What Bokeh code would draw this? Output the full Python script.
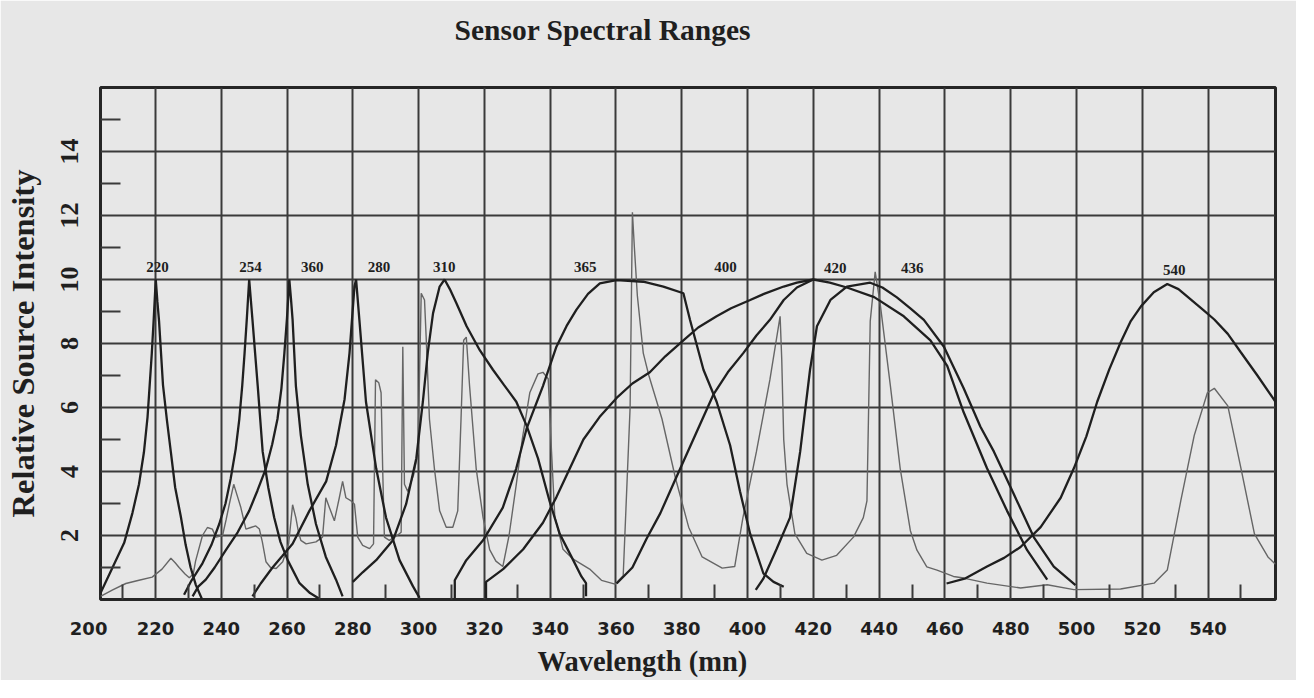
from bokeh.plotting import figure
from bokeh.models import Range1d, FixedTicker, Title
from bokeh.embed import file_html
from bokeh.resources import INLINE
from bokeh.core.properties import value

# ---------------- data ----------------
x_ticks = [220, 240, 260, 280, 300, 320, 340, 360, 380, 400, 420, 440, 460, 480, 500, 520, 540]
x_minor = [210, 230, 250, 270, 290, 310, 330, 350, 370, 390, 410, 430, 450, 470, 490, 510, 530, 550]
y_ticks = [2, 4, 6, 8, 10, 12, 14]
y_minor = [1, 3, 5, 7, 9, 11, 13, 15]
first_tick_pos = 203.5          # the printed "200" sits at the left edge of the frame
first_tick_text = "200"

peak_names = ["220", "254", "360", "280", "310", "365", "400", "420", "436", "540"]
peak_x = [220.6, 248.9, 267.7, 288.0, 307.8, 350.7, 393.3, 426.7, 450.1, 529.7]
peak_y = [10.4, 10.4, 10.4, 10.4, 10.4, 10.4, 10.4, 10.35, 10.35, 10.3]

s220_x = [203.3, 206.5, 210.5, 213, 215, 216.5, 217.6, 218.9, 219.5, 220.1, 220.6, 221.1, 222.3, 223.5, 224.7, 226, 227.7, 229.2, 230.7, 232.3, 234.2]
s220_y = [0.2, 0.9, 1.77, 2.7, 3.6, 4.6, 5.7, 7.7, 8.8, 10, 9.3, 8.7, 6.7, 5.6, 4.6, 3.5, 2.6, 1.7, 1.0, 0.45, 0.0]

s254_x = [228.7, 231, 234.3, 237, 239.4, 241.3, 242.9, 244.4, 245.5, 246.4, 247.1, 247.8, 248.5, 249.5, 250.3, 251.1, 252.6, 254.3, 256.1, 258, 260.2, 263.8, 267, 270.2]
s254_y = [0.15, 0.6, 1.13, 1.7, 2.36, 3.0, 3.79, 4.7, 5.64, 6.7, 7.7, 8.8, 10, 8.74, 7.7, 6.67, 4.62, 3.5, 2.56, 1.8, 1.23, 0.51, 0.2, 0.0]

s260_x = [231.3, 233, 235.3, 238, 241.4, 245, 248.5, 251, 253.6, 255.5, 257.1, 258.3, 259.2, 260, 260.7, 261.2, 261.7, 262.7, 264.2, 266.3, 268.8, 271.8, 274.9, 276.9]
s260_y = [0.1, 0.4, 0.62, 1.0, 1.54, 2.1, 2.77, 3.4, 4.1, 4.85, 5.64, 6.6, 7.7, 8.8, 10, 9.4, 8.74, 6.67, 5.13, 3.6, 2.36, 1.33, 0.62, 0.1]

s280_x = [249.5, 252, 255.6, 258.5, 261.7, 266.8, 271.9, 274.9, 277.5, 279, 280.5, 281, 282, 284, 287.1, 290.1, 294.2, 298.3, 300.3]
s280_y = [0.1, 0.5, 1.0, 1.35, 1.74, 2.77, 3.69, 4.82, 6.26, 7.7, 9.78, 10, 8.74, 6.18, 4.1, 2.56, 1.23, 0.41, 0.05]

s310_x = [280, 283, 287.1, 292.2, 296.2, 299.3, 301.3, 302.8, 304.4, 306.4, 307.9, 309.5, 311.5, 314.6, 318.6, 322.6, 326, 329.7, 332.8, 336.3, 339.8, 342.9, 347, 349.5, 350.9, 350.9]
s310_y = [0.55, 0.85, 1.23, 1.85, 2.98, 4.41, 6.18, 7.72, 8.95, 9.78, 10, 9.7, 9.26, 8.54, 7.79, 7.18, 6.7, 6.18, 5.44, 4.41, 3.08, 2.05, 1.23, 0.72, 0.51, 0.1]

s365_x = [311, 311, 314.5, 319.6, 325.6, 329.7, 332.8, 337.8, 341.9, 345, 348, 351.5, 355.1, 360.2, 368.3, 374.4, 380.5, 382.5, 386.6, 390.6, 394.7, 397.7, 400.8, 404.8, 407.9, 411]
s365_y = [0.05, 0.6, 1.23, 1.85, 2.87, 4.1, 5.33, 6.67, 7.9, 8.55, 9.06, 9.55, 9.88, 9.98, 9.93, 9.78, 9.57, 8.74, 7.18, 6.18, 4.82, 3.38, 2.05, 0.82, 0.55, 0.4]

s400_x = [320.5, 320.5, 325.7, 331.8, 337.8, 341.9, 346, 350.1, 355, 360.2, 365, 370.3, 375, 380.5, 385, 390.6, 395, 400.8, 405, 411, 415, 420, 425, 430.2, 438.5, 447.5, 455.6, 460.7, 465.7, 472.8, 478.9, 485, 491.1]
s400_y = [0.05, 0.55, 0.95, 1.57, 2.4, 3.2, 4.1, 5.0, 5.7, 6.3, 6.75, 7.1, 7.6, 8.1, 8.5, 8.85, 9.1, 9.36, 9.55, 9.78, 9.9, 10, 9.9, 9.75, 9.45, 8.85, 8.1, 7.3, 5.85, 4.1, 2.77, 1.54, 0.62]

s420_x = [360.2, 365, 369.3, 373.5, 377.4, 383.5, 389.6, 394, 398.7, 402.7, 406.8, 411, 415, 420]
s420_y = [0.5, 1.0, 1.9, 2.7, 3.6, 5.0, 6.4, 7.1, 7.7, 8.25, 8.74, 9.36, 9.75, 10]

s436_x = [402.5, 404.8, 408.8, 412.9, 416, 419, 421.1, 425.2, 430.2, 437.3, 441, 445.4, 449.5, 453.6, 459.7, 465.7, 470.8, 474.9, 481, 487, 493.1, 499.7]
s436_y = [0.3, 0.65, 1.57, 2.56, 4.62, 7.18, 8.54, 9.36, 9.78, 9.9, 9.75, 9.44, 9.1, 8.74, 7.9, 6.6, 5.4, 4.62, 3.28, 1.95, 1.03, 0.45]

s540_x = [460.5, 466, 472.8, 478, 483, 489.1, 495.2, 499.2, 503, 506.3, 510, 513.4, 516.5, 519.6, 523.5, 527.6, 531, 534.8, 538.5, 541.9, 546, 550, 555, 560.5]
s540_y = [0.5, 0.65, 1.03, 1.3, 1.64, 2.26, 3.18, 4.1, 5.1, 6.18, 7.2, 8.03, 8.7, 9.16, 9.6, 9.86, 9.7, 9.37, 9.05, 8.75, 8.3, 7.72, 7.0, 6.18]

lamp_x = [203.3, 207, 211, 215, 219, 222, 224.7, 226, 227.2, 229, 230.3, 231.5, 232.2, 234.3, 235.8, 237.3, 238.4, 240.4, 241.5, 242.5, 243.8, 245, 245.9, 247.5, 249, 250.5, 251.6, 252.5, 253.6, 255, 256.7, 258.7, 260.5, 261.7, 262.7, 263.5, 264.2, 265.8, 268.8, 270.8, 271.8, 272.9, 274.4, 275.9, 276.9, 277.9, 279.5, 280.5, 281.5, 283, 285.1, 286.3, 286.9, 287.9, 288.6, 289.1, 289.6, 291.1, 293.5, 294.7, 295.2, 295.7, 296.7, 298.5, 299.8, 300.8, 301.8, 302.3, 303.3, 304.8, 306.4, 308.4, 310.4, 311.9, 312.9, 313.7, 314.5, 315.5, 317.5, 319.6, 321.6, 323.5, 325.6, 327.5, 329.7, 331.5, 333.8, 336.3, 337.8, 339.4, 340.4, 341.4, 343.9, 347, 352, 355.6, 359.7, 362.2, 364.3, 365.0, 365.6, 366.5, 368.3, 370, 374, 378.1, 382.1, 386.2, 392.3, 396.1, 398.6, 402.7, 406.8, 409.9, 410.4, 411, 412, 414.4, 418, 422.6, 427.1, 432.2, 435.2, 436.3, 437.3, 438.8, 440.3, 443.4, 446.4, 449.5, 451.5, 454.5, 457.6, 462.6, 465.7, 472.8, 483, 491.1, 499.2, 513.4, 523.6, 527.6, 531.7, 535.8, 539.8, 541.9, 546, 550, 554.1, 558.2, 560.5]
lamp_y = [0.1, 0.3, 0.5, 0.6, 0.7, 0.95, 1.29, 1.15, 1.0, 0.8, 0.68, 0.8, 1.2, 2.0, 2.25, 2.2, 1.95, 2.0, 2.5, 3.0, 3.6, 3.2, 2.9, 2.2, 2.25, 2.3, 2.2, 1.8, 1.18, 1.0, 0.97, 1.18, 1.75, 2.96, 2.55, 2.1, 1.85, 1.74, 1.8, 1.95, 3.18, 2.87, 2.46, 3.18, 3.69, 3.18, 3.08, 2.98, 1.95, 1.69, 1.59, 1.74, 6.87, 6.77, 6.46, 4.0, 1.95, 1.85, 2.0, 2.1, 7.9, 3.6, 3.38, 3.9, 4.6, 9.57, 9.36, 8.2, 5.64, 4.1, 2.77, 2.26, 2.26, 2.77, 5.64, 8.1, 8.2, 6.67, 4.1, 2.56, 1.56, 1.2, 1.03, 2.0, 3.6, 5.0, 6.46, 7.05, 7.1, 6.9, 4.65, 2.6, 1.57, 1.26, 0.95, 0.6, 0.48, 0.74, 6.0, 12.1, 11.0, 9.5, 7.7, 7.0, 5.64, 3.79, 2.26, 1.33, 0.98, 1.03, 2.56, 4.62, 6.87, 8.85, 7.5, 5.0, 3.6, 2.05, 1.44, 1.23, 1.38, 1.95, 2.56, 3.08, 8.7, 10.24, 9.26, 6.7, 4.1, 2.15, 1.54, 1.02, 0.92, 0.72, 0.67, 0.51, 0.36, 0.46, 0.31, 0.33, 0.51, 0.92, 3.08, 5.13, 6.46, 6.6, 6.05, 4.1, 2.05, 1.33, 1.1]

sensor_series = [(s220_x, s220_y), (s254_x, s254_y), (s260_x, s260_y), (s280_x, s280_y),
                 (s310_x, s310_y), (s365_x, s365_y), (s400_x, s400_y), (s420_x, s420_y),
                 (s436_x, s436_y), (s540_x, s540_y)]

# ---------------- figure ----------------
BG = "#e7e7e7"
INK = "#1f1f1f"
GRID = "#3a3a3a"

p = figure(width=1296, height=680, output_backend="svg", toolbar_location=None,
           x_range=Range1d(203.3, 560.5), y_range=Range1d(0, 16),
           min_border_left=100, min_border_right=21, min_border_top=87, min_border_bottom=81)
p.background_fill_color = BG
p.border_fill_color = BG
p.outline_line_color = "#262626"
p.outline_line_width = 3

# spacer between the frame and the title
p.add_layout(Title(text=" ", text_font_size="31px", standoff=0), "above")

p.title.text = "Sensor Spectral Ranges"
p.title.text_font = "Liberation Serif"
p.title.text_font_style = "bold"
p.title.text_font_size = "29.5px"
p.title.text_color = INK
p.title.align = "left"
p.title.offset = 354

p.xgrid.ticker = FixedTicker(ticks=x_ticks)
p.ygrid.ticker = FixedTicker(ticks=y_ticks)
for g in (p.xgrid, p.ygrid):
    g.grid_line_color = GRID
    g.grid_line_width = 2
    g.grid_line_alpha = 1.0

p.xaxis.ticker = FixedTicker(ticks=[first_tick_pos] + x_ticks, minor_ticks=x_minor)
p.xaxis.major_label_overrides = {first_tick_pos: first_tick_text + "\u00a0" * 4}
p.yaxis.ticker = FixedTicker(ticks=y_ticks, minor_ticks=y_minor)
for ax in (p.xaxis, p.yaxis):
    ax.axis_line_color = None
    ax.major_tick_in = 0
    ax.major_tick_out = 0
    ax.minor_tick_out = 0
    ax.minor_tick_line_color = GRID
    ax.minor_tick_line_width = 2
    ax.major_label_text_color = INK
    ax.axis_label_text_color = INK
    ax.axis_label_text_font = "Liberation Serif"
    ax.axis_label_text_font_style = "bold"

p.xaxis.minor_tick_in = 15
p.yaxis.minor_tick_in = 20
p.xaxis.major_label_text_font = "DejaVu Sans"
p.xaxis.major_label_text_font_style = "bold"
p.xaxis.major_label_text_font_size = "18px"
p.xaxis.major_label_standoff = 18

# x-axis caption (printed a little left of the frame centre)
p.add_layout(Title(text="Wavelength (mn)", align="left", offset=437,
                   text_font="Liberation Serif", text_font_style="bold",
                   text_font_size="28.5px", text_color=INK, standoff=4), "below")

p.yaxis.major_label_text_font = "Liberation Serif"
p.yaxis.major_label_text_font_style = "bold"
p.yaxis.major_label_text_font_size = "26px"
p.yaxis.major_label_orientation = "vertical"
p.yaxis.major_label_standoff = 23
p.yaxis.axis_label = "Relative Source Intensity"
p.yaxis.axis_label_text_font_size = "32.5px"
p.yaxis.axis_label_standoff = 17

# lamp (thin grey) spectrum
p.line(lamp_x, lamp_y, line_color="#666666", line_width=1.4)

# sensor responses (thick black)
for sx, sy in sensor_series:
    p.line(sx, sy, line_color=INK, line_width=2.3)

# peak labels
p.text(x=peak_x, y=peak_y, text=peak_names, text_font=value("Liberation Serif"),
       text_font_size=value("15px"), text_font_style="bold", text_color=INK,
       text_align="center", text_baseline="middle")

open("out.html", "w").write(file_html(p, INLINE))
